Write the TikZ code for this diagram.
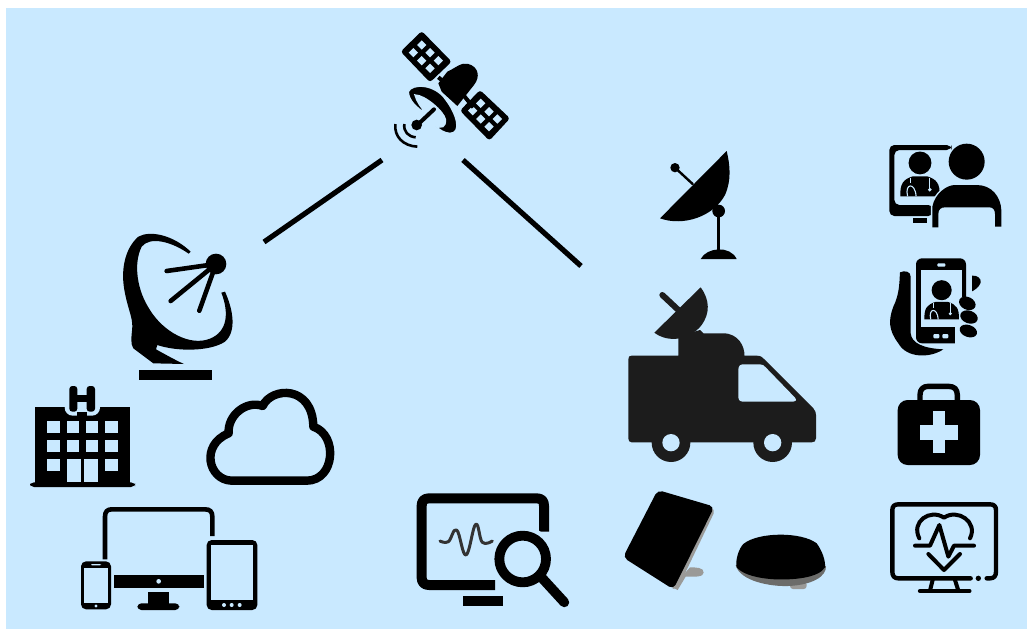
\documentclass[tikz,border=0pt]{standalone}
\definecolor{sky}{HTML}{C9E9FF}
\definecolor{truckc}{HTML}{1C1C1C}
\definecolor{greyc}{HTML}{9A9A98}
\tikzset{
  icon/.style={fill=black,draw=none},
  hole/.style={fill=sky,draw=none},
  stroke/.style={draw=black,line width=#1,line cap=round,line join=round},
  stroke/.default=4pt,
  link/.style={draw=black,line width=5.2pt},
  zoomed/.style={shift={#1},scale=0.33333},
}
\newcommand{\doctorfig}{%
  \fill (0,-40) circle (35);
  \fill (-60,62) .. controls (-62,22) and (-50,10) .. (-22,1) -- (22,1) .. controls (50,10) and (62,22) .. (60,62) -- cycle;
  \draw[sky,line width=1.1pt] (-38,62) .. controls (-48,22) and (-15,18) .. (-12,62);
  \draw[sky,line width=1.1pt] (-30,6) -- (-30,22);
  \draw[sky,line width=1.1pt] (30,6) -- (30,40);
  \fill[sky] (30,42) circle (6);
}
\begin{document}
\begin{tikzpicture}[x=1pt,y=-1pt]
\useasboundingbox (0,0) rectangle (1027,629);
\fill[white] (0,0) rectangle (1027,629);
\fill[sky] (6,8) rectangle (1027,629);

% links
\coordinate (a1) at (264,242);
\coordinate (a2) at (382,160);
\coordinate (b1) at (463,160);
\coordinate (b2) at (581,266);
\draw[link] (a1) -- (a2);
\draw[link] (b1) -- (b2);

% satellite
\begin{scope}[zoomed={(370,20)}]
  \fill[icon,rounded corners=3pt] (155,33) -- (245,125) -- (180,187) -- (92,95) -- cycle;
  \fill[icon,rounded corners=3pt] (330,210) -- (420,295) -- (358,362) -- (270,272) -- cycle;
  \foreach \px/\py in {155/75,180/98,205/122,130/98,155/122,180/145,332/250,357/275,382/297,308/272,332/297,357/320}{
    \fill[hole] (\px,\py-14) -- (\px+14,\py) -- (\px,\py+14) -- (\px-14,\py) -- cycle;
  }
  \draw[line width=4pt] (205,172) -- (240,200);
  \draw[line width=4pt] (280,225) -- (310,262);
  \fill[icon] (232,155) .. controls (255,145) and (275,125) .. (295,132)
     .. controls (325,140) and (332,170) .. (312,195)
     -- (262,258) -- (215,215) -- (205,190) -- cycle;
  \fill[icon,draw=sky,line width=1.4pt] (115,215) .. controls (125,190) and (195,190) .. (228,240)
     .. controls (262,285) and (275,340) .. (240,340)
     .. controls (225,340) and (208,330) .. (197,318)
     .. controls (215,325) and (228,322) .. (226,298)
     .. controls (222,275) and (165,225) .. (135,225)
     .. controls (140,245) and (155,265) .. (170,282)
     .. controls (140,265) and (115,240) .. (115,215) -- cycle;
  \draw[stroke=4pt] (192,268) -- (142,315);
  \fill (140,315) circle (16);
  \draw[stroke=2.6pt,line cap=butt] (103,312) .. controls (100,335) and (115,350) .. (137,352);
  \draw[stroke=2.6pt,line cap=butt] (76,312) .. controls (72,350) and (100,378) .. (142,380);
\end{scope}

% big dish
\begin{scope}[zoomed={(100,220)}]
  \fill[icon] (272,95) .. controls (220,45) and (150,30) .. (115,50)
     .. controls (75,85) and (60,150) .. (75,220)
     .. controls (85,270) and (97,290) .. (97,320)
     .. controls (95,350) and (90,370) .. (100,385)
     -- (160,430) -- (252,432)
     .. controls (225,420) and (190,400) .. (168,388) -- (172,375)
     .. controls (230,395) and (330,395) .. (375,365)
     .. controls (410,335) and (400,270) .. (375,215) -- (364,218)
     .. controls (388,280) and (382,335) .. (330,356)
     .. controls (270,380) and (190,335) .. (150,270)
     .. controls (110,210) and (100,130) .. (125,80)
     .. controls (150,48) and (215,65) .. (266,101) -- cycle;
  \fill[icon] (118,450) rectangle (336,480);
  \fill (348,132) circle (31);
  \draw[stroke=4.6pt] (348,132) -- (200,153);
  \draw[stroke=4.6pt] (348,132) -- (212,243);
  \draw[stroke=4.6pt] (348,132) -- (298,272);
\end{scope}

% hospital, cloud, devices
\begin{scope}[zoomed={(20,380)}]
  \fill[icon] (45,80) rectangle (330,312);
  \fill[icon,rounded corners=4pt] (30,307) rectangle (345,321);
  \fill[hole,rounded corners=8pt] (134,60) rectangle (240,107);
  \fill[icon,rounded corners=3pt] (148,18) rectangle (172,95);
  \fill[icon,rounded corners=3pt] (200,18) rectangle (225,95);
  \fill[icon] (170,45) rectangle (202,65);
  \fill[icon] (170,95) rectangle (202,110);
  \foreach \px in {82,140,197,255}{
    \fill[hole] (\px,122) rectangle +(38,36);
    \fill[hole] (\px,179) rectangle +(38,37);
  }
  \fill[hole] (82,236) rectangle +(38,38);
  \fill[hole] (255,236) rectangle +(38,38);
  \fill[hole] (140,236) rectangle (182,305);
  \fill[hole] (192,236) rectangle (235,305);

  \draw[stroke=8.4pt] (635,302) .. controls (565,300) and (540,195) .. (626,160)
     .. controls (622,105) and (680,60) .. (728,78)
     .. controls (755,20) and (878,15) .. (880,140)
     .. controls (955,165) and (945,302) .. (860,302) -- cycle;

  \draw[stroke=4.6pt,line cap=butt] (255,538) -- (255,410) .. controls (255,395) and (262,388) .. (275,388)
     -- (555,388) .. controls (570,388) and (577,395) .. (577,410) -- (577,468);
  \fill[icon] (282,586) rectangle (552,624);
  \fill[hole] (416,604) circle (7);
  \fill[icon] (385,636) rectangle (447,675);
  \fill[icon,rounded corners=4pt] (352,670) rectangle (478,690);
  \fill[icon,rounded corners=5pt] (183,544) rectangle (273,688);
  \fill[hole] (192,563) rectangle (265,668);
  \fill[hole,rounded corners=1pt] (213,552) rectangle (243,556);
  \fill[hole] (228,678) circle (5);
  \fill[icon,rounded corners=5pt] (560,480) rectangle (712,690);
  \fill[hole] (573,494) rectangle (699,660);
  \foreach \px in {612,635,659}{\fill[hole] (\px,675) circle (6);}
\end{scope}

% small dish
\begin{scope}[zoomed={(610,140)}]
  \draw[stroke=2.4pt] (195,83) -- (248,132);
  \fill (195,83) circle (14);
  \fill[icon] (350,33) -- (150,235) .. controls (220,260) and (310,230) .. (345,165) .. controls (365,120) and (360,75) .. (350,33) -- cycle;
  \fill (326,213) circle (19);
  \fill[icon] (321,213) rectangle (331,330);
  \fill[icon] (272,357) .. controls (290,322) and (360,315) .. (380,357) -- cycle;
\end{scope}

% truck
\begin{scope}[zoomed={(610,140)}]
  \draw[draw=truckc,line width=6pt,line cap=round] (157,465) -- (205,510);
  \fill[truckc] (272,442) -- (133,578) .. controls (175,610) and (240,600) .. (275,555) .. controls (300,520) and (300,480) .. (272,442) -- cycle;
  \fill[truckc] (65,647) -- (205,647) -- (205,590) -- (270,570) -- (280,580) -- (340,580)
     .. controls (385,580) and (405,620) .. (403,647) -- (440,647)
     .. controls (452,647) and (458,652) .. (462,657)
     -- (610,805) .. controls (616,812) and (618,818) .. (618,825)
     -- (618,895) .. controls (618,904) and (612,907) .. (605,907)
     -- (65,907) .. controls (58,907) and (55,902) .. (55,895)
     -- (55,658) .. controls (55,650) and (58,647) .. (65,647) -- cycle;
  \fill[truckc] (183,908) circle (58);
  \fill[truckc] (488,908) circle (58);
  \fill[hole] (183,908) circle (26);
  \fill[hole] (488,908) circle (26);
  \fill[hole] (400,673) -- (450,673) .. controls (458,673) and (462,677) .. (466,681)
     -- (555,773) .. controls (560,780) and (558,785) .. (550,785)
     -- (400,785) .. controls (390,785) and (385,780) .. (385,770)
     -- (385,690) .. controls (385,678) and (390,673) .. (400,673) -- cycle;
\end{scope}

% doctor on monitor with person
\begin{scope}[zoomed={(880,130)}]
  \fill[icon,rounded corners=5pt] (28,45) -- (215,45) -- (215,60) -- (43,60) -- (43,225) -- (160,225) -- (160,258) -- (28,258) -- cycle;
  \fill[icon] (100,265) rectangle (142,280);
  \begin{scope}[shift={(120,138)},scale=0.98]
    \doctorfig
  \end{scope}
  \fill[icon] (260,95) circle (54);
  \draw[sky,line width=3pt] (157,300) -- (157,230) .. controls (165,190) and (200,165) .. (225,165) -- (290,165) .. controls (330,165) and (362,200) .. (362,240);
  \fill[icon] (157,292) -- (157,230) .. controls (165,190) and (200,165) .. (225,165)
     -- (290,165) .. controls (335,165) and (362,200) .. (364,240) -- (364,290) -- (345,290) -- (345,252)
     .. controls (345,238) and (338,232) .. (328,232) -- (195,232)
     .. controls (183,232) and (175,238) .. (175,252) -- (175,292) -- cycle;
\end{scope}

% phone in hand
\begin{scope}[zoomed={(880,130)}]
  \fill[icon] (60,427) .. controls (75,420) and (92,425) .. (92,440) -- (92,610)
     .. controls (95,640) and (130,655) .. (190,658)
     .. controls (150,685) and (80,685) .. (55,640)
     .. controls (25,600) and (25,570) .. (40,530)
     .. controls (60,490) and (58,450) .. (60,427) -- cycle;
  \fill[icon,rounded corners=6pt] (108,385) rectangle (258,640);
  \fill[hole] (122,420) rectangle (245,590);
  \fill[hole] (246,500) rectangle (260,642);
  \fill[hole] (226,590) rectangle (260,642);
  \fill[hole,rounded corners=1pt] (172,400) rectangle (196,410);
  \fill[hole,rounded corners=1pt] (160,612) rectangle (178,625);
  \fill[hole,rounded corners=1pt] (187,612) rectangle (205,625);
  \begin{scope}[shift={(185,515)},scale=0.86]
    \doctorfig
  \end{scope}
  \fill[icon] (276,437) .. controls (290,435) and (305,445) .. (302,458) .. controls (298,470) and (285,480) .. (276,484) -- cycle;
  \fill[icon,rotate around={-25:(262,520)}] (262,520) ellipse (26 and 19);
  \fill[icon,rotate around={-20:(267,561)}] (267,561) ellipse (27 and 19);
  \fill[icon,rotate around={-20:(265,603)}] (265,603) ellipse (27 and 18);
\end{scope}

% medical kit
\begin{scope}[zoomed={(880,375)}]
  \draw[stroke=5.4pt] (120,75) -- (120,60) .. controls (120,42) and (130,34) .. (145,34) -- (205,34) .. controls (222,34) and (232,42) .. (232,60) -- (232,75);
  \fill[icon,rounded corners=10pt] (53,75) rectangle (300,270);
  \fill[hole] (158,108) rectangle (196,235);
  \fill[hole] (120,150) rectangle (233,195);
\end{scope}

% heart monitor
\begin{scope}[zoomed={(880,375)}]
  \draw[stroke=4.4pt] (272,610) -- (55,610) .. controls (43,610) and (37,603) .. (37,590)
     -- (37,405) .. controls (37,394) and (43,388) .. (55,388)
     -- (330,388) .. controls (342,388) and (348,394) .. (348,405)
     -- (348,590) .. controls (348,603) and (342,610) .. (330,610) -- (320,610);
  \fill (295,610) circle (8);
  \draw[stroke=4pt] (158,615) -- (150,647);
  \draw[stroke=4pt] (225,615) -- (235,647);
  \draw[stroke=4.4pt] (120,648) -- (268,648);
  \draw[stroke=4pt] (118,490) .. controls (92,440) and (150,400) .. (192,428) .. controls (232,400) and (295,440) .. (270,490);
  \draw[stroke=4pt] (105,512) -- (150,512) -- (178,450) -- (205,545) -- (222,512) -- (282,512);
  \draw[stroke=4pt] (145,537) -- (192,585) -- (240,537);
\end{scope}

% monitor with magnifier
\begin{scope}[zoomed={(405,485)}]
  \draw[stroke=10pt,line cap=butt] (270,300) -- (72,300) .. controls (58,300) and (50,292) .. (50,278)
     -- (50,62) .. controls (50,48) and (58,40) .. (72,40)
     -- (395,40) .. controls (410,40) and (417,48) .. (417,62) -- (417,140);
  \fill[icon] (175,333) rectangle (293,362);
  \draw[draw=black!80,line width=3pt,line cap=round,line join=round] plot[smooth,tension=0.7] coordinates {(105,168) (130,170) (155,135) (183,210) (212,118) (232,172) (262,168)};
  \fill[hole] (353,222) circle (98);
  \draw[stroke=9.8pt] (353,222) circle (70);
  \draw[stroke=9.8pt,line cap=round] (412,280) -- (478,352);
\end{scope}

% terminals
\begin{scope}[zoomed={(615,480)}]
  \fill[greyc] (225,262) .. controls (240,262) and (268,262) .. (266,278) .. controls (265,292) and (240,290) .. (212,290) -- (188,330) -- (172,322) -- cycle;
  \fill[greyc,rounded corners=5pt] (270,75) -- (302,88) -- (186,330) -- (165,322) -- cycle;
  \fill[icon,rounded corners=5pt] (128,30) -- (298,80) -- (175,328) -- (24,232) -- cycle;
  \fill[greyc,rounded corners=3pt] (525,305) rectangle (575,327);
  \fill[greyc!70!black] (362,255) .. controls (375,305) and (470,320) .. (520,318) .. controls (590,315) and (635,290) .. (633,258) -- cycle;
  \fill[icon] (365,262) .. controls (360,240) and (372,205) .. (385,192)
     .. controls (430,155) and (560,155) .. (605,190)
     .. controls (620,210) and (632,240) .. (630,262)
     .. controls (610,295) and (530,300) .. (480,298)
     .. controls (430,295) and (385,285) .. (365,262) -- cycle;
\end{scope}
\end{tikzpicture}
\end{document}
